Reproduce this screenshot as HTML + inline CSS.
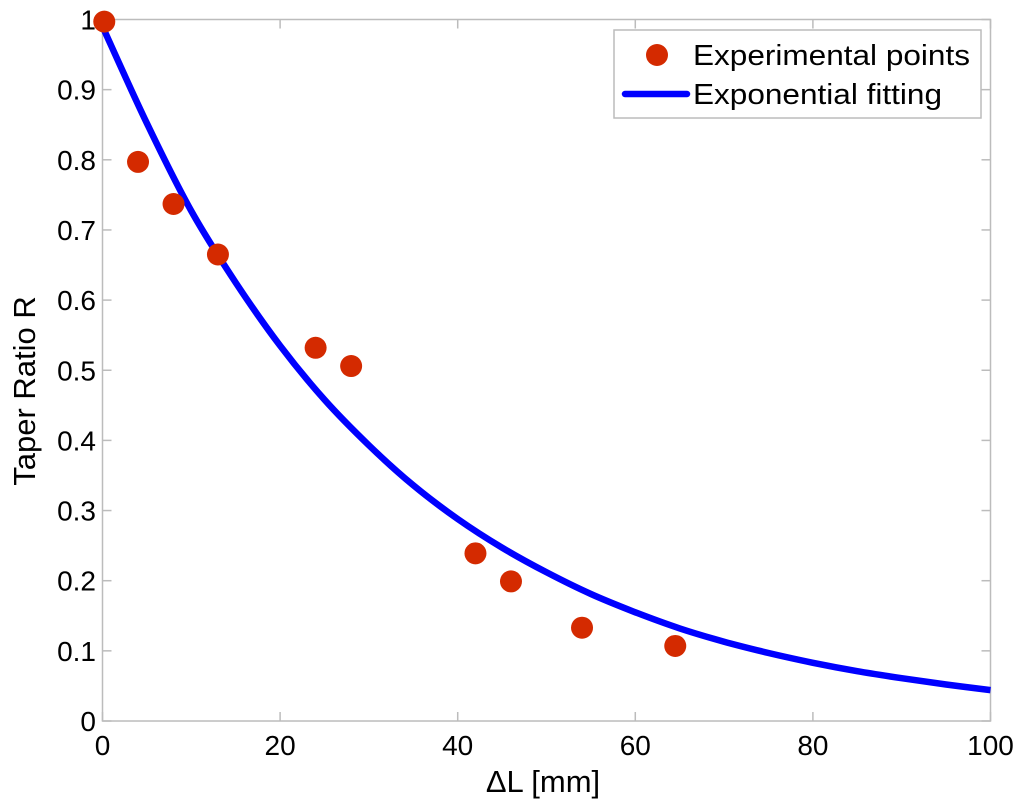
<!DOCTYPE html>
<html><head><meta charset="utf-8"><style>
body{margin:0;background:#fff}
svg text{font-family:"Liberation Sans",Arial,sans-serif;fill:#000}
</style></head><body>
<svg id="chart" width="1024" height="806" xmlns="http://www.w3.org/2000/svg"></svg>
<script>
const xTicks=[0,20,40,60,80,100];
const yTicks=[0,0.1,0.2,0.3,0.4,0.5,0.6,0.7,0.8,0.9,1];
const yTickLabels=["0","0.1","0.2","0.3","0.4","0.5","0.6","0.7","0.8","0.9","1"];
const expX=[0.2,4,8,13,24,28,42,46,54,64.5];
const expY=[0.997,0.797,0.737,0.665,0.532,0.506,0.239,0.199,0.133,0.107];
const fitX=[0,5,10,15,20,25,30,35,40,45,50,55,60,65,70,75,80,85,90,95,100];
const fitY=[0.99,0.852,0.727,0.625,0.535,0.458,0.393,0.336,0.288,0.247,0.212,0.181,0.155,0.132,0.113,0.097,0.083,0.071,0.061,0.052,0.044];

const L=102.5,R=990.5,T=19.5,B=721;
const sx=v=>L+(v/100)*(R-L);
const sy=v=>B-v*(B-T);
const svg=document.getElementById('chart');
const NS='http://www.w3.org/2000/svg';
function mk(tag,attrs,parent){const e=document.createElementNS(NS,tag);for(const k in attrs)e.setAttribute(k,attrs[k]);(parent||svg).appendChild(e);return e;}

const frame=mk('rect',{x:L,y:T,width:R-L,height:B-T,fill:'none',stroke:'#bcbcbc','stroke-width':1.5});



xTicks.forEach(v=>{
  const x=sx(v);
  const t1=mk('line',{x1:x,x2:x,y1:B,y2:B-9,stroke:'#bcbcbc','stroke-width':1.5});
  
  
  mk('line',{x1:x,x2:x,y1:T,y2:T+9,stroke:'#bcbcbc','stroke-width':1.5});
  const t=mk('text',{x:x,y:755,'font-size':28,'text-anchor':'middle'});
  t.textContent=v;
  
  
});
yTicks.forEach((v,i)=>{
  const y=sy(v);
  const t1=mk('line',{x1:L,x2:L+9,y1:y,y2:y,stroke:'#bcbcbc','stroke-width':1.5});
  
  
  mk('line',{x1:R,x2:R-9,y1:y,y2:y,stroke:'#bcbcbc','stroke-width':1.5});
  const t=mk('text',{x:96,y:y+10,'font-size':28,'text-anchor':'end'});
  t.textContent=yTickLabels[i];
  
  
});

// smooth curve through fit points (Catmull-Rom)
const P=fitX.map((v,i)=>[sx(v),sy(fitY[i])]);
let d='M'+P[0][0].toFixed(1)+','+P[0][1].toFixed(1);
for(let i=0;i<P.length-1;i++){
  const p0=P[Math.max(i-1,0)],p1=P[i],p2=P[i+1],p3=P[Math.min(i+2,P.length-1)];
  const c1=[p1[0]+(p2[0]-p0[0])/6,p1[1]+(p2[1]-p0[1])/6];
  const c2=[p2[0]-(p3[0]-p1[0])/6,p2[1]-(p3[1]-p1[1])/6];
  d+='C'+c1.map(n=>n.toFixed(1)).join(',')+' '+c2.map(n=>n.toFixed(1)).join(',')+' '+p2.map(n=>n.toFixed(1)).join(',');
}
const line=mk('path',{d:d,fill:'none',stroke:'#0000ff','stroke-width':6.5,'stroke-linejoin':'round'});



expX.forEach((v,i)=>{
  const c=mk('circle',{cx:sx(v),cy:sy(expY[i]),r:11,fill:'#d42a00'});
  
  
});

const lg=mk('g',{});


mk('rect',{x:614,y:30,width:367,height:88,fill:'#fff',stroke:'#bcbcbc','stroke-width':1.5},lg);
mk('circle',{cx:657,cy:55,r:11,fill:'#d42a00'},lg);
mk('line',{x1:625,x2:687,y1:94,y2:94,stroke:'#0000ff','stroke-width':6.5,'stroke-linecap':'round'},lg);
const l1=mk('text',{x:693,y:65,'font-size':29,textLength:277,lengthAdjust:'spacingAndGlyphs'},lg);l1.textContent='Experimental points';


const l2=mk('text',{x:693,y:104,'font-size':29,textLength:249,lengthAdjust:'spacingAndGlyphs'},lg);l2.textContent='Exponential fitting';



const xl=mk('text',{x:543,y:792,'font-size':31,'text-anchor':'middle'});
xl.textContent='\u0394L [mm]';


const yl=mk('text',{x:0,y:0,'font-size':31,'text-anchor':'middle',transform:'translate(35,391) rotate(-90)'});
yl.textContent='Taper Ratio R';


</script>
</body></html>
